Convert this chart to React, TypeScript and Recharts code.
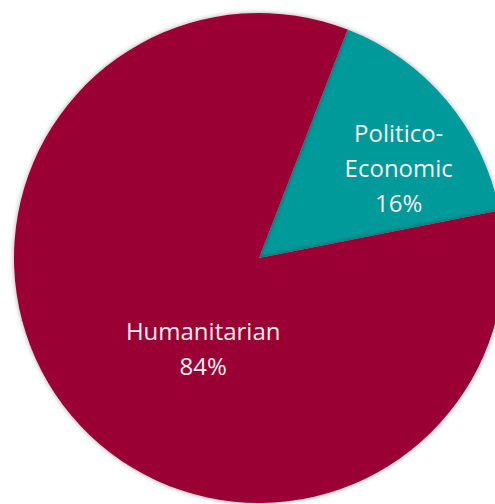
// Pie chart: share of aid motives (Politico-Economic vs Humanitarian).
import { Cell, Pie, PieChart } from "recharts";

const categorias = ["Politico-Economic", "Humanitarian"];
const valores = [16, 84];
const cores = ["#009a9a", "#9b0036"];

// label placement per slice: radius as a fraction of outerRadius, angle offset from the mid angle
const rotulosRaio = [0.68, 0.43];
const rotulosDesvio = [-7, 18];
const rotulosLinhas = [["Politico-", "Economic"], ["Humanitarian"]];

const dados = categorias.map((nome, i) => ({ nome, valor: valores[i] }));

const RAD = Math.PI / 180;

function Rotulo(props: any) {
  const { cx, cy, midAngle, outerRadius, index, percent } = props;
  const ang = (midAngle + rotulosDesvio[index]) * RAD;
  const r = outerRadius * rotulosRaio[index];
  const x = cx + r * Math.cos(ang);
  const y = cy - r * Math.sin(ang);
  const linhas = [...rotulosLinhas[index], `${Math.round(percent * 100)}%`];
  const alturaLinha = 35;
  const topo = y - ((linhas.length - 1) * alturaLinha) / 2;
  return (
    <text
      x={x}
      y={topo}
      fill="#f6eef1"
      textAnchor="middle"
      dominantBaseline="central"
      fontFamily="'Open Sans', sans-serif"
      fontSize={24}
    >
      {linhas.map((l, i) => (
        <tspan key={i} x={x} y={topo + i * alturaLinha}>
          {l}
        </tspan>
      ))}
    </text>
  );
}

export default function App() {
  return (
    <div style={{ width: 495, height: 504, background: "#ffffff" }}>
      <style>{"body{margin:0}"}</style>
      <PieChart width={495} height={504} margin={{ top: 0, right: 0, bottom: 0, left: 0 }}>
        <defs>
          <filter id="sombra" x="-10%" y="-10%" width="120%" height="120%">
            <feDropShadow dx="0" dy="0" stdDeviation="2.5" floodColor="#000" floodOpacity="0.35" />
          </filter>
        </defs>
        <Pie
          data={dados}
          dataKey="valor"
          nameKey="nome"
          cx={259}
          cy={258}
          outerRadius={245}
          startAngle={68.8}
          endAngle={68.8 - 360}
          stroke="none"
          label={Rotulo}
          labelLine={false}
          isAnimationActive={false}
          style={{ filter: "url(#sombra)" }}
        >
          {dados.map((d, i) => (
            <Cell key={d.nome} fill={cores[i]} />
          ))}
        </Pie>
      </PieChart>
    </div>
  );
}
